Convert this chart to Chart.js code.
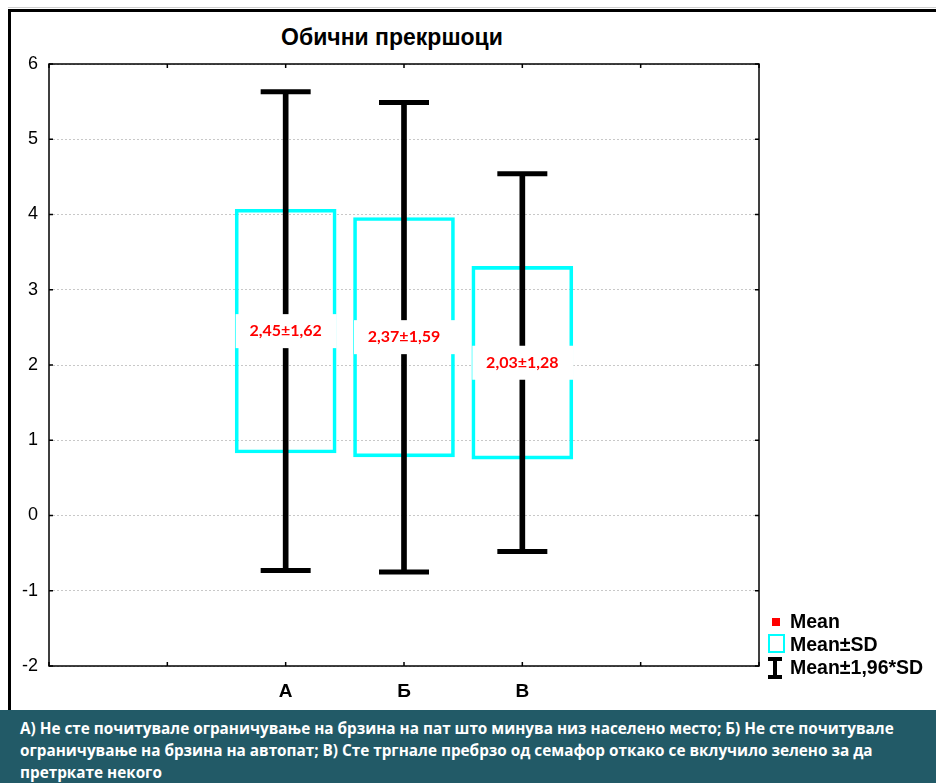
<!DOCTYPE html>
<html>
<head>
  <meta charset="utf-8">
  <title>Обични прекршоци</title>
  <script src="https://cdn.jsdelivr.net/npm/chart.js@4.4.1/dist/chart.umd.min.js"></script>
  <style>
    body {
      margin: 0;
      padding: 0;
      background: #fff;
      font-family: Arial, "Liberation Sans", sans-serif;
    }

    #wrap {
      position: relative;
      width: 936px;
      height: 783px;
      overflow: hidden;
    }

    #frame {
      position: absolute;
      left: 8px;
      top: 9px;
      width: 1000px;
      height: 720px;
      border-left: 3px solid #000;
      border-top: 3px solid #000;
    }

    #topline {
      position: absolute;
      left: 8px;
      top: 7px;
      width: 1000px;
      height: 1px;
      background: #cfcfcf;
    }

    #title {
      position: absolute;
      left: 392px;
      top: 24px;
      transform: translateX(-50%);
      font-weight: bold;
      font-size: 23px;
      white-space: nowrap;
    }

    canvas {
      position: absolute;
      left: 0;
      top: 0;
    }

    .legend {
      position: absolute;
      left: 790px;
      font-weight: bold;
      font-size: 19.5px;
      white-space: nowrap;
    }

    .icon {
      position: absolute;
    }

    #caption {
      position: absolute;
      left: 0;
      top: 710px;
      width: 936px;
      height: 73px;
      background: #225a67;
      color: #fff;
      font-family: "Open Sans", sans-serif;
      font-weight: bold;
      font-size: 15.3px;
      line-height: 22px;
      box-sizing: border-box;
      padding: 7px 0 0 20px;
      white-space: nowrap;
    }
  </style>
</head>
<body>
  <div id="wrap">
    <div id="topline"></div>
    <div id="frame"></div>
    <div id="title">Обични прекршоци</div>
    <canvas id="chart" width="936" height="783"></canvas>

    <div class="icon" style="left:772px;top:618px;width:8px;height:8px;background:#ff0000;"></div>
    <div class="legend" style="top:610px;">Mean</div>
    <div class="icon" style="left:768px;top:634px;width:13px;height:15px;border:2px solid #00ffff;"></div>
    <div class="legend" style="top:633px;">Mean±SD</div>
    <div class="icon" style="left:768px;top:657px;width:14px;height:4px;background:#000;"></div>
    <div class="icon" style="left:773px;top:657px;width:4px;height:22px;background:#000;"></div>
    <div class="icon" style="left:768px;top:675px;width:14px;height:4px;background:#000;"></div>
    <div class="legend" style="top:656px;">Mean±1,96*SD</div>

    <div id="caption">А) Не сте почитувале ограничување на брзина на пат што минува низ населено место; Б) Не сте почитувале<br>ограничување на брзина на автопат; В) Сте тргнале пребрзо од семафор откако се вклучило зелено за да<br>претркате некого</div>
  </div>

  <script>
    // categories sit at x = 2, 3, 4 on a 0..6 axis
    const categories = ['А', 'Б', 'В'];
    const catPos = [2, 3, 4];
    const means = [2.45, 2.37, 2.03];
    const sds = [1.62, 1.59, 1.28];
    const sdLow = [0.83, 0.78, 0.75];
    const sdHigh = [4.07, 3.96, 3.31];
    const ciLow = [-0.73, -0.75, -0.48];
    const ciHigh = [5.63, 5.49, 4.54];
    const yTicks = [-2, -1, 0, 1, 2, 3, 4, 5, 6];

    const fmt = v => v.toFixed(2).replace('.', ',');

    const boxData = catPos.map((x, i) => ({ x: x, y: [sdLow[i], sdHigh[i]] }));
    const stemData = catPos.map((x, i) => ({ x: x, y: [ciLow[i], ciHigh[i]] }));
    const capData = [];
    catPos.forEach((x, i) => {
      capData.push({ x: x, y: ciLow[i] });
      capData.push({ x: x, y: ciHigh[i] });
    });
    const meanData = catPos.map((x, i) => ({ x: x, y: means[i] }));

    // plot frame + inward tick marks
    const framePlugin = {
      id: 'frame',
      afterDraw(chart) {
        const ctx = chart.ctx;
        const a = chart.chartArea;
        const xs = chart.scales.x;
        const ys = chart.scales.y;
        ctx.save();
        ctx.strokeStyle = '#000';
        ctx.lineWidth = 1.5;
        ctx.strokeRect(a.left, a.top, a.right - a.left, a.bottom - a.top);
        ctx.beginPath();
        xs.ticks.forEach(t => {
          const px = xs.getPixelForValue(t.value);
          ctx.moveTo(px, a.top); ctx.lineTo(px, a.top + 4);
          ctx.moveTo(px, a.bottom); ctx.lineTo(px, a.bottom - 4);
        });
        ys.ticks.forEach(t => {
          const py = ys.getPixelForValue(t.value);
          ctx.moveTo(a.left, py); ctx.lineTo(a.left + 4, py);
          ctx.moveTo(a.right, py); ctx.lineTo(a.right - 4, py);
        });
        ctx.stroke();
        ctx.restore();
      }
    };

    // value labels "mean±sd" on white background
    const labelPlugin = {
      id: 'meanLabels',
      afterDatasetsDraw(chart) {
        const ctx = chart.ctx;
        const xs = chart.scales.x;
        const ys = chart.scales.y;
        ctx.save();
        ctx.font = 'bold 16px Lato, sans-serif';
        ctx.textAlign = 'center';
        ctx.textBaseline = 'middle';
        catPos.forEach((x, i) => {
          const px = xs.getPixelForValue(x);
          const py = ys.getPixelForValue(means[i]);
          ctx.fillStyle = '#fff';
          ctx.fillRect(px - 50, py - 17, 101, 34);
          ctx.fillStyle = '#ff0000';
          ctx.fillText(fmt(means[i]) + '±' + fmt(sds[i]), px, py);
        });
        ctx.restore();
      }
    };

    new Chart(document.getElementById('chart'), {
      type: 'bar',
      data: {
        datasets: [
          {
            type: 'scatter',
            data: capData,
            pointStyle: 'line',
            radius: 25,
            borderWidth: 5,
            borderColor: '#000',
            showLine: false,
            order: 0
          },
          {
            data: stemData,
            backgroundColor: '#000',
            borderWidth: 0,
            barThickness: 5,
            grouped: false,
            order: 1
          },
          {
            type: 'scatter',
            data: meanData,
            pointStyle: 'rect',
            radius: 4,
            backgroundColor: '#ff0000',
            borderWidth: 0,
            order: 2
          },
          {
            data: boxData,
            backgroundColor: 'rgba(0,0,0,0)',
            borderColor: '#00ffff',
            borderWidth: 3,
            borderSkipped: false,
            barThickness: 101,
            grouped: false,
            order: 3
          }
        ]
      },
      options: {
        responsive: false,
        animation: false,
        layout: { padding: { left: 0, top: 64, right: 177, bottom: 0 } },
        plugins: {
          legend: { display: false },
          tooltip: { enabled: false }
        },
        scales: {
          x: {
            type: 'linear',
            min: 0,
            max: 6,
            offset: false,
            grid: { display: false, drawTicks: false },
            border: { display: false },
            ticks: {
              stepSize: 1,
              padding: 14,
              color: '#000',
              font: { family: 'Arial', size: 19, weight: 'bold' },
              callback: v => {
                const k = catPos.indexOf(v);
                return k >= 0 ? categories[k] : '';
              }
            },
            afterFit: s => { s.height = 117; }
          },
          y: {
            min: -2,
            max: 6,
            afterBuildTicks: s => { s.ticks = yTicks.map(v => ({ value: v })); },
            grid: {
              drawTicks: false,
              color: '#c8c8c8',
              lineWidth: 1
            },
            border: { display: false, dash: [2, 2] },
            ticks: {
              padding: 11,
              color: '#000',
              font: { family: 'Arial', size: 18 }
            },
            afterFit: s => { s.width = 49; }
          }
        }
      },
      plugins: [framePlugin, labelPlugin]
    });
  </script>
</body>
</html>
